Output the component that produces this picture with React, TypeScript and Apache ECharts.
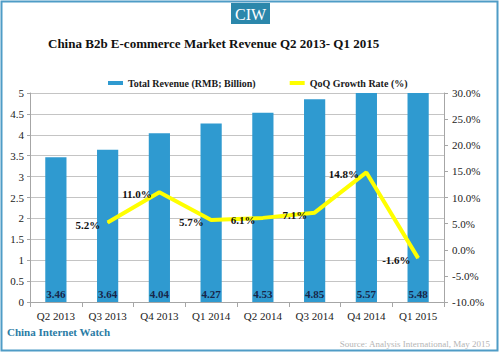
import React, { useEffect, useRef } from "react";
import * as echarts from "echarts";

const categories = ["Q2 2013", "Q3 2013", "Q4 2013", "Q1 2014", "Q2 2014", "Q3 2014", "Q4 2014", "Q1 2015"];
const revenue = [3.46, 3.64, 4.04, 4.27, 4.53, 4.85, 5.57, 5.48];
const growth = [null, 5.2, 11.0, 5.7, 6.1, 7.1, 14.8, -1.6];

const SERIF = "'Liberation Serif', 'Times New Roman', serif";

export default function App() {
  const ref = useRef<HTMLDivElement>(null);
  useEffect(() => {
    const chart = echarts.init(ref.current!, null, { renderer: "svg" });
    chart.setOption({
      animation: false,
      backgroundColor: "#ffffff",
      textStyle: { fontFamily: SERIF },
      grid: { left: 30, right: 56, top: 93, bottom: 52 },
      legend: {
        left: 103,
        top: 73,
        itemWidth: 15,
        itemHeight: 4,
        itemGap: 34,
        textStyle: { fontFamily: SERIF, fontSize: 10, fontWeight: "bold", color: "#1a1a1a" },
        data: [
          { name: "Total Revenue (RMB; Billion)", icon: "rect" },
          { name: "QoQ Growth Rate (%)", icon: "rect" },
        ],
      },
      graphic: [
        {
          type: "rect",
          shape: { x: 1.5, y: 1.5, width: 496, height: 349 },
          style: { fill: "none", stroke: "#4f9cc6", lineWidth: 2 },
        },
        {
          type: "rect",
          shape: { x: 231, y: 3, width: 39, height: 21 },
          style: { fill: "#2b87ab" },
        },
        {
          type: "text",
          x: 250.5,
          y: 14,
          style: {
            text: "CIW",
            fill: "#ffffff",
            font: `16px ${SERIF}`,
            textAlign: "center",
            textVerticalAlign: "middle",
          },
        },
        {
          type: "text",
          x: 48,
          y: 43,
          style: {
            text: "China B2b E-commerce Market Revenue Q2 2013- Q1 2015",
            fill: "#111111",
            font: `bold 13px ${SERIF}`,
            textVerticalAlign: "middle",
          },
        },
        {
          type: "text",
          x: 7,
          y: 332,
          style: {
            text: "China Internet Watch",
            fill: "#2b7ca5",
            font: `bold 11px ${SERIF}`,
            textVerticalAlign: "middle",
          },
        },
        {
          type: "text",
          x: 490,
          y: 344,
          style: {
            text: "Source: Analysis International, May 2015",
            fill: "#b5b5b5",
            font: `9px ${SERIF}`,
            textAlign: "right",
            textVerticalAlign: "middle",
          },
        },
      ],
      xAxis: {
        type: "category",
        data: categories,
        axisLine: { lineStyle: { color: "#a6a6a6" } },
        axisTick: { show: true, length: 5, lineStyle: { color: "#a6a6a6" } },
        axisLabel: { interval: 0, color: "#222222", fontSize: 11, fontFamily: SERIF, margin: 8 },
      },
      yAxis: [
        {
          type: "value",
          min: 0,
          max: 5,
          interval: 0.5,
          axisLine: { show: true, lineStyle: { color: "#a6a6a6" } },
          axisTick: { show: true, length: 3, lineStyle: { color: "#a6a6a6" } },
          axisLabel: { color: "#222222", fontSize: 11, fontFamily: SERIF, margin: 6 },
          splitLine: { lineStyle: { color: "#c4c4c4" } },
        },
        {
          type: "value",
          min: -10,
          max: 30,
          interval: 5,
          position: "right",
          axisLine: { show: true, lineStyle: { color: "#a6a6a6" } },
          axisTick: { show: true, length: 4, lineStyle: { color: "#a6a6a6" } },
          axisLabel: {
            color: "#222222",
            fontSize: 11,
            fontFamily: SERIF,
            margin: 8,
            formatter: (v: number) => v.toFixed(1) + "%",
          },
          splitLine: { show: false },
        },
      ],
      series: [
        {
          name: "Total Revenue (RMB; Billion)",
          type: "bar",
          data: revenue,
          barWidth: "41%",
          clip: true,
          itemStyle: { color: "#2f9ad0" },
          label: {
            show: true,
            position: "insideBottom",
            distance: 3,
            color: "#17264a",
            fontSize: 11,
            fontWeight: "bold",
            fontFamily: SERIF,
            formatter: (p: any) => p.value.toFixed(2),
          },
        },
        {
          name: "QoQ Growth Rate (%)",
          type: "line",
          yAxisIndex: 1,
          data: growth,
          symbol: "circle",
          symbolSize: 1,
          itemStyle: { color: "#ffff00" },
          lineStyle: { color: "#ffff00", width: 4 },
          label: {
            show: true,
            position: "left",
            distance: 7,
            offset: [0, 2],
            color: "#111111",
            fontSize: 11,
            fontWeight: "bold",
            fontFamily: SERIF,
            formatter: (p: any) => p.value.toFixed(1) + "%",
          },
        },
      ],
    });
    return () => chart.dispose();
  }, []);
  return <div ref={ref} style={{ position: "absolute", left: 0, top: 0, width: 500, height: 354 }} />;
}
